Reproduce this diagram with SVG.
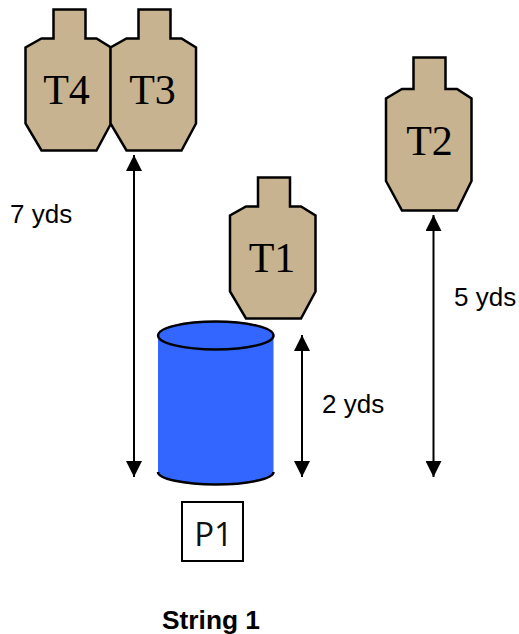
<svg xmlns="http://www.w3.org/2000/svg" width="519" height="634" viewBox="0 0 519 634">
<style>
.t{fill:#c7b38f;stroke:#000;stroke-width:2.5;stroke-linejoin:miter}
.tl{font-family:"Liberation Serif",serif;font-size:42px;text-anchor:middle;fill:#000}
.lb{font-family:"Liberation Sans",Arial,sans-serif;font-size:26px;fill:#000}
.c{stroke:#000;stroke-width:2;fill:none;marker-start:url(#a);marker-end:url(#a)}
</style>
<defs>
<marker id="a" viewBox="0 0 16 16" refX="16" refY="8" markerWidth="16" markerHeight="16" markerUnits="userSpaceOnUse" orient="auto-start-reverse"><path d="M0 0L16 8L0 16Z" fill="#000"/></marker>
<polygon id="s" points="28,0 60,0 60,29 71,29 85.500,38 85.500,114 71,141 16,141 0,114 0,38 16,29 28,29"/>
</defs>
<g id="T4"><use href="#s" x="25.500" y="9.500" class="t"/><text class="tl" x="66.500" y="104">T4</text></g>
<g id="T3"><use href="#s" x="110.500" y="9.500" class="t"/><text class="tl" x="152.500" y="104">T3</text></g>
<g id="T2"><polygon class="t" points="413.500,57.500 445.500,57.500 445.500,89 457,89 471.500,98.500 471.500,181 457,210.500 402,210.500 386,181 386,98.500 402,89 413.500,89"/><text class="tl" x="429.500" y="155">T2</text></g>
<g id="T1"><use href="#s" x="230" y="177.500" class="t"/><text class="tl" x="272" y="272">T1</text></g>
<g id="P-cylinder">
<path d="M158 335V472A57.700 13 0 0 0 273.500 472V335Z" fill="#36f"/>
<path d="M158 472A57.700 12.500 0 0 0 273.500 472" fill="none" stroke="#000" stroke-width="2.500"/>
<ellipse cx="215.800" cy="335.500" rx="57.700" ry="14" fill="#36f" stroke="#000" stroke-width="2.500"/>
</g>
<g id="P1"><rect x="182" y="502" width="61" height="59" fill="#fff" stroke="#000" stroke-width="2"/><text x="213.500" y="546" font-family="Open Sans,sans-serif" font-size="33" text-anchor="middle" fill="#111">P1</text></g>
<g id="connectors">
<line class="c" x1="134" y1="155" x2="134" y2="477"/>
<line class="c" x1="302" y1="335" x2="302" y2="477"/>
<line class="c" x1="433.500" y1="215" x2="433.500" y2="477"/>
</g>
<g id="labels">
<text class="lb" x="10" y="223">7 yds</text>
<text class="lb" x="322" y="413">2 yds</text>
<text class="lb" x="454" y="306">5 yds</text>
<text x="162" y="629" font-family="Liberation Sans,Arial,sans-serif" font-size="25" font-weight="bold" textLength="98" lengthAdjust="spacingAndGlyphs">String 1</text>
</g>
</svg>
